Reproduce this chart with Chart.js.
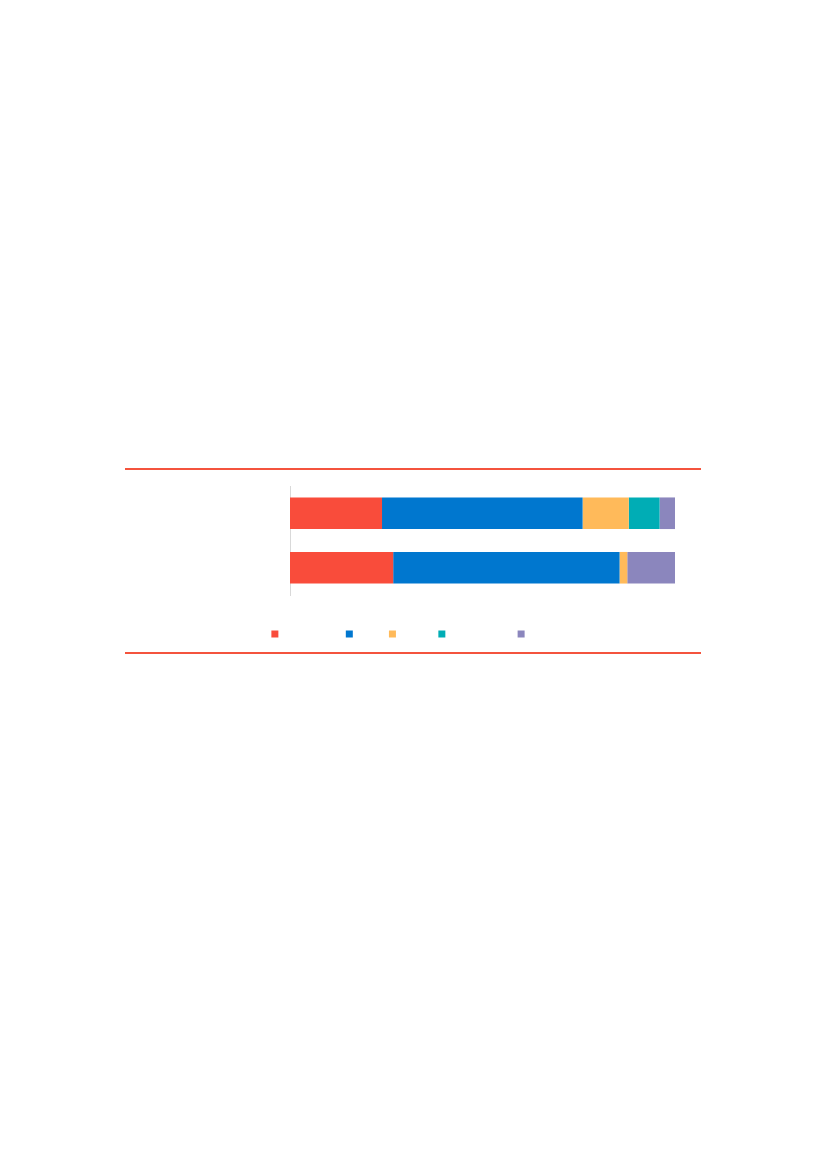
<!DOCTYPE html>
<html>
<head>
<meta charset="utf-8">
<script src="https://cdn.jsdelivr.net/npm/chart.js@4"></script>
<style>
  body{ margin:0; background:#fff; width:827px; height:1169px; position:relative; }
  #box{ position:absolute; left:125px; top:468px; width:576px; height:182px;
        border-top:2px solid #f4533d; border-bottom:2px solid #f4533d; }
</style>
</head>
<body>
<div id="box"><canvas id="c"></canvas></div>
<script>
// values, each bar sums to 100
const categories = ['2022', '2023'];
const seriesNames = ['Wages paid', 'Rent', 'Travel', 'Maintenance', 'Other'];
const seriesColors = ['#f94c3b', '#0077cf', '#ffba5a', '#00adb5', '#8b86bd'];
const wages = [23.9, 26.8];
const rent = [52.1, 58.8];
const travel = [12.0, 2.0];
const maintenance = [8.0, 0];
const other = [4.0, 12.4];
const seriesValues = [wages, rent, travel, maintenance, other];

const ctx = document.getElementById('c').getContext('2d');
new Chart(ctx, {
  type:'bar',
  data:{
    labels: categories,
    datasets: seriesNames.map((n,i)=>({
      label:n, data:seriesValues[i], backgroundColor:seriesColors[i],
      barPercentage:0.58, categoryPercentage:1, borderWidth:0
    }))
  },
  options:{
    indexAxis:'y', responsive:true, maintainAspectRatio:false, animation:false,
    layout:{ padding:{ top:16, left:0, right:0, bottom:3 } },
    scales:{
      x:{ stacked:true, min:0, max:100, display:true,
          grid:{ display:false }, border:{ display:false }, ticks:{ display:false },
          afterFit: s => { s.height = 24; } },
      y:{ stacked:true, grid:{ display:false },
          border:{ color:'#d9d9d9', width:1 },
          ticks:{ color:'#ffffff', font:{ family:'Liberation Sans', size:10 } },
          afterFit: s => { s.width = 165; } },
      // empty right margin so the legend centres on the whole box
      y2:{ axis:'y', position:'right', display:true,
           grid:{ display:false }, border:{ display:false }, ticks:{ display:false },
           afterFit: s => { s.width = 26; } }
    },
    plugins:{
      legend:{ position:'bottom',
        labels:{ boxWidth:7, boxHeight:7, padding:10, color:'#ffffff',
                 font:{ family:'Liberation Sans', size:10 } } },
      tooltip:{ enabled:false }
    }
  }
});
</script>
</body>
</html>
